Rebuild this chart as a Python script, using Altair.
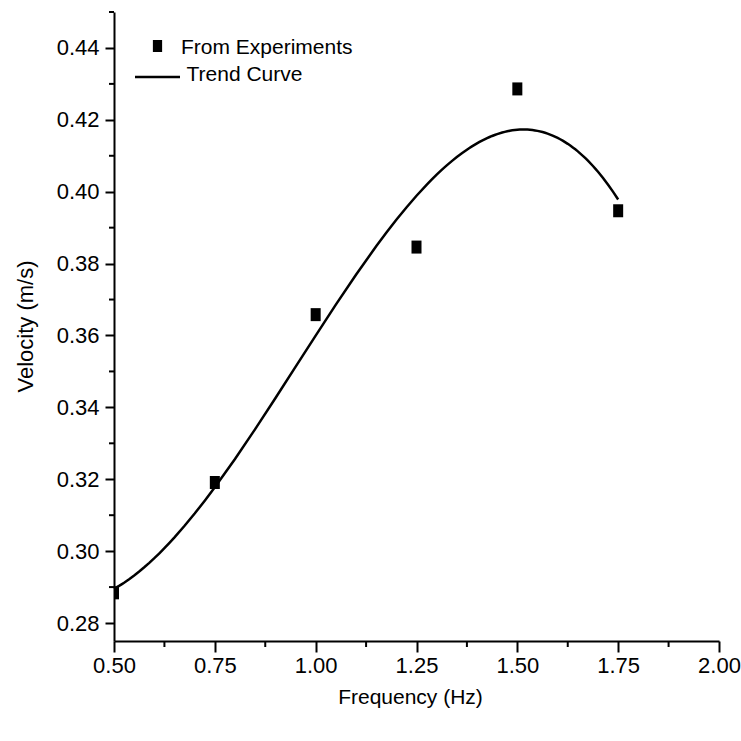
import altair as alt
import pandas as pd

# Measured velocity of the swimmer at each driving frequency
freq = [0.50, 0.75, 1.00, 1.25, 1.50, 1.75]
velocity = [0.2884, 0.3191, 0.3658, 0.3846, 0.4286, 0.3947]

# Axis tick positions (major ticks are labelled, minor ones are not)
x_major = [0.50, 0.75, 1.00, 1.25, 1.50, 1.75, 2.00]
x_minor = [0.625, 0.875, 1.125, 1.375, 1.625, 1.875]
y_major = [0.28, 0.30, 0.32, 0.34, 0.36, 0.38, 0.40, 0.42, 0.44]
y_minor = [0.29, 0.31, 0.33, 0.35, 0.37, 0.39, 0.41, 0.43, 0.45]

legend_labels = ["From Experiments", "Trend Curve"]

FONT = "Liberation Sans"
W, H = 605, 629
RECT = "M-0.77,-1L0.77,-1L0.77,1L-0.77,1Z"

df = pd.DataFrame({"f": freq, "v": velocity})

xscale = alt.Scale(domain=[0.5, 2.0], nice=False, zero=False)
yscale = alt.Scale(domain=[0.275, 0.45], nice=False, zero=False)

x_axis = alt.Axis(
    values=x_major, format=".2f", grid=False, labelFlush=False,
    tickSize=11, tickWidth=2, tickColor="black",
    domainWidth=2, domainColor="black",
    labelFont=FONT, labelFontSize=22, labelColor="black", labelPadding=3,
    title="Frequency (Hz)", titleFont=FONT, titleFontSize=21,
    titleFontWeight="normal", titleColor="black",
    titleX=296, titleY=56, titleAlign="center", titleBaseline="middle",
)
y_axis = alt.Axis(
    values=y_major, format=".2f", grid=False, labelFlush=False,
    tickSize=9, tickWidth=2, tickColor="black",
    domainWidth=2, domainColor="black",
    labelFont=FONT, labelFontSize=22, labelColor="black", labelPadding=6,
    title="Velocity (m/s)", titleFont=FONT, titleFontSize=22,
    titleFontWeight="normal", titleColor="black",
    titleAngle=270, titleX=-89, titleY=314,
    titleAlign="center", titleBaseline="middle",
)

# Experimental points
points = alt.Chart(df).mark_point(
    shape=RECT, size=169, filled=True, color="black", opacity=1, clip=True
).encode(
    x=alt.X("f:Q", scale=xscale, axis=x_axis),
    y=alt.Y("v:Q", scale=yscale, axis=y_axis),
)

# Cubic least-squares trend through the measurements
trend = alt.Chart(df).transform_regression(
    "f", "v", method="poly", order=3, extent=[0.5, 1.75]
).mark_line(color="black", strokeWidth=2.5).encode(
    x=alt.X("f:Q", scale=xscale),
    y=alt.Y("v:Q", scale=yscale),
)

# Minor ticks on both axes
xminor = alt.Chart(pd.DataFrame({"t": x_minor})).mark_rule(
    color="black", strokeWidth=2
).encode(x=alt.X("t:Q", scale=xscale), y=alt.value(H), y2=alt.value(H + 6))

yminor = alt.Chart(pd.DataFrame({"t": y_minor})).mark_rule(
    color="black", strokeWidth=2
).encode(y=alt.Y("t:Q", scale=yscale), x=alt.value(-5), x2=alt.value(0))

# Legend in the upper-left corner of the plot
leg_df = pd.DataFrame({"label": legend_labels})
leg_square = alt.Chart(leg_df.iloc[[0]]).mark_point(
    shape=RECT, size=144, filled=True, color="black", opacity=1
).encode(x=alt.value(43.5), y=alt.value(34))
leg_line = alt.Chart(leg_df.iloc[[1]]).mark_rule(
    color="black", strokeWidth=2.5
).encode(x=alt.value(21), x2=alt.value(66), y=alt.value(65))
leg_text1 = alt.Chart(leg_df.iloc[[0]]).mark_text(
    font=FONT, fontSize=21, align="left", baseline="alphabetic", color="black"
).encode(x=alt.value(67), y=alt.value(41.5), text="label:N")
leg_text2 = alt.Chart(leg_df.iloc[[1]]).mark_text(
    font=FONT, fontSize=21, align="left", baseline="alphabetic", color="black"
).encode(x=alt.value(72.5), y=alt.value(68.5), text="label:N")

chart = alt.layer(
    trend, points, xminor, yminor, leg_square, leg_line, leg_text1, leg_text2
).properties(
    width=W, height=H,
    autosize=alt.AutoSizeParams(type="none"),
    padding={"left": 114, "top": 12, "right": 22, "bottom": 100},
    background="white",
).configure_view(stroke=None)

chart.save("out.html", embed_options={"renderer": "svg", "actions": False})
